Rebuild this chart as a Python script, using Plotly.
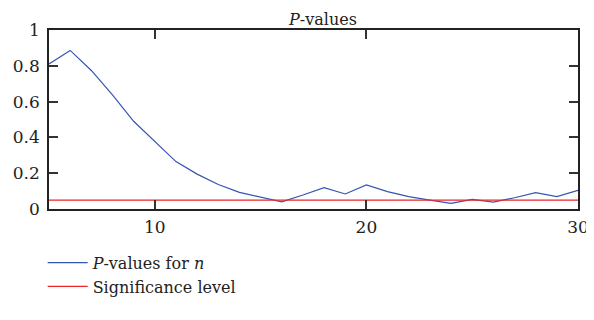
import plotly.graph_objects as go

n_values = list(range(5, 31))
p_values = [0.81, 0.886, 0.774, 0.637, 0.49, 0.375, 0.265, 0.195, 0.137, 0.093,
            0.065, 0.04, 0.078, 0.119, 0.084, 0.134, 0.097, 0.069, 0.05, 0.032,
            0.054, 0.039, 0.063, 0.091, 0.069, 0.104]
sig_level = 0.05
x_ticks = [10, 20, 30]
y_ticks = [0, 0.2, 0.4, 0.6, 0.8, 1]
y_tick_text = ["0", "0.2", "0.4", "0.6", "0.8", "1"]

FONT = "DejaVu Serif, Liberation Serif, serif"

fig = go.Figure()
fig.add_trace(go.Scatter(x=n_values, y=p_values, mode="lines",
                         line=dict(color="#3556b0", width=1.2),
                         name="<i>P</i>-values for <i>n</i>"))
fig.add_trace(go.Scatter(x=[n_values[0], n_values[-1]], y=[sig_level, sig_level], mode="lines",
                         line=dict(color="#e8262a", width=1.2),
                         name="Significance level"))

fig.update_layout(
    width=586, height=312,
    margin=dict(l=41, r=16, t=22, b=111, autoexpand=False),
    paper_bgcolor="white", plot_bgcolor="white",
    font=dict(family=FONT, size=17, color="#222"),
    title=dict(text="<i>P</i>-values", x=0.518, xref="paper", xanchor="center",
               y=1, yref="paper", yanchor="bottom", pad=dict(b=5),
               font=dict(family=FONT, size=16, color="#222")),
    showlegend=True,
    legend=dict(x=-0.012, xanchor="left", y=-0.205, yanchor="top",
                font=dict(family=FONT, size=16, color="#222"),
                tracegroupgap=0, itemwidth=40, bgcolor="rgba(0,0,0,0)"),
)
fig.update_xaxes(range=[5, 30], tickvals=x_ticks, ticks="inside", ticklen=9, tickwidth=1.5,
                 tickcolor="#333", showline=True, linecolor="#222", linewidth=1.5,
                 mirror="allticks", showgrid=False, zeroline=False, automargin=False,
                 ticklabelstandoff=2,
                 tickfont=dict(family=FONT, size=17, color="#222"))
fig.update_yaxes(range=[0, 1], tickvals=y_ticks, ticktext=y_tick_text, ticks="inside", ticklen=9,
                 tickwidth=1.5, tickcolor="#333", showline=True, linecolor="#222", linewidth=1.5,
                 mirror="allticks", showgrid=False, zeroline=False, automargin=False,
                 ticklabelstandoff=4,
                 tickfont=dict(family=FONT, size=17, color="#222"))

fig.write_html("out.html")
